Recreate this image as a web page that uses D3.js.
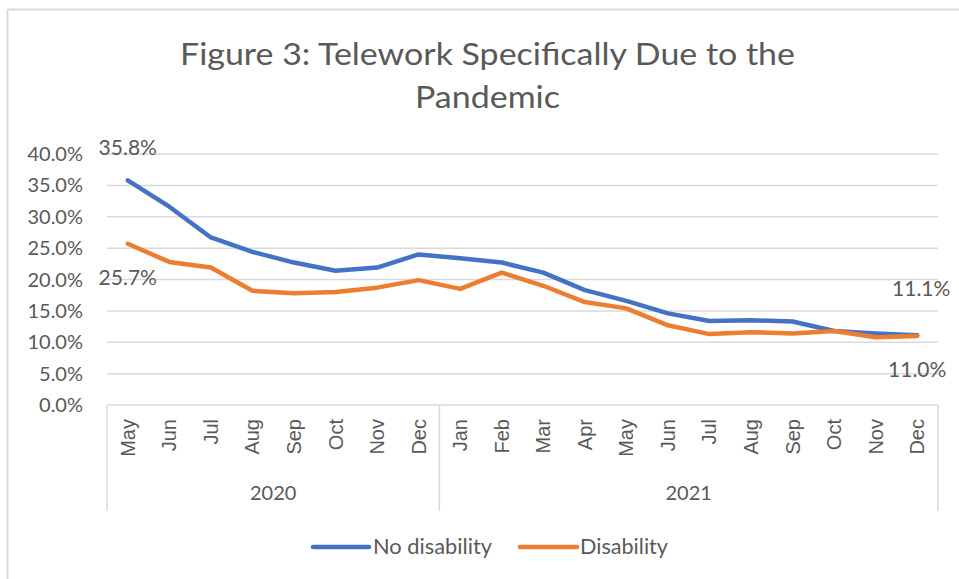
<!DOCTYPE html>
<html><head><meta charset="utf-8">
<script src="https://cdn.jsdelivr.net/npm/d3@7"></script>
<style>html,body{margin:0;padding:0;background:#fff;}svg{display:block;}</style>
</head><body>
<svg id="chart" width="959" height="579"></svg>
<script>
const title = ["Figure 3: Telework Specifically Due to the", "Pandemic"];
const months = ["May","Jun","Jul","Aug","Sep","Oct","Nov","Dec","Jan","Feb","Mar","Apr","May","Jun","Jul","Aug","Sep","Oct","Nov","Dec"];
const years = [{label:"2020", count:8}, {label:"2021", count:12}];
const noDisability = [35.8,31.6,26.7,24.4,22.7,21.4,21.9,24.0,23.4,22.7,21.1,18.3,16.6,14.6,13.4,13.5,13.3,11.8,11.4,11.1];
const disability   = [25.7,22.8,21.9,18.2,17.8,18.0,18.7,19.9,18.5,21.1,19.0,16.4,15.4,12.7,11.3,11.6,11.4,11.8,10.8,11.0];
const yTicks = [0,5,10,15,20,25,30,35,40];
const seriesNames = ["No disability","Disability"];
const colors = ["#4472C4","#ED7D31"];

const svg = d3.select("#chart");
const grey = "#595959", gridC = "#d9d9d9";
const sans = "Lato, 'Liberation Sans', sans-serif";

// border (top & left visible)
svg.append("line").attr("x1",7.5).attr("x2",959).attr("y1",9.5).attr("y2",9.5).attr("stroke",gridC).attr("stroke-width",2);
svg.append("line").attr("x1",7.5).attr("x2",7.5).attr("y1",9.5).attr("y2",579).attr("stroke",gridC).attr("stroke-width",2);

// title
const tl = svg.append("g").attr("font-family","Lato, 'Liberation Sans', sans-serif").attr("font-weight",400).attr("fill",grey).attr("font-size",31);
tl.append("text").attr("x",487.5).attr("y",65).attr("text-anchor","middle").attr("textLength",615).attr("lengthAdjust","spacingAndGlyphs").text(title[0]);
tl.append("text").attr("x",487.5).attr("y",108).attr("text-anchor","middle").attr("textLength",145).attr("lengthAdjust","spacingAndGlyphs").text(title[1]);

const x = d3.scaleBand().domain(d3.range(months.length)).range([107,938]).padding(0);
const y = d3.scaleLinear().domain([0,40]).range([405,154]);
const cx = i => x(i) + x.bandwidth()/2;

// gridlines
svg.append("g").selectAll("line").data(yTicks).join("line")
  .attr("x1",107).attr("x2",938).attr("y1",d=>y(d)).attr("y2",d=>y(d))
  .attr("stroke",gridC).attr("stroke-width",1.5);

// y tick labels
svg.append("g").selectAll("text").data(yTicks).join("text")
  .attr("x",83).attr("y",d=>y(d)+7).attr("text-anchor","end")
  .attr("font-family",sans).attr("font-size",20).attr("fill",grey)
  .text(d=>d.toFixed(1)+"%");

// category axis vertical separators
let cum = 0;
const bounds = [0];
years.forEach(yy=>{cum+=yy.count; bounds.push(cum);});
svg.append("g").selectAll("line").data(bounds).join("line")
  .attr("x1",d=> d<months.length ? x(d) : x(months.length-1)+x.bandwidth())
  .attr("x2",d=> d<months.length ? x(d) : x(months.length-1)+x.bandwidth())
  .attr("y1",405).attr("y2",511).attr("stroke",gridC).attr("stroke-width",1.5);

// month labels
svg.append("g").selectAll("text").data(months).join("text")
  .attr("transform",(d,i)=>`translate(${cx(i)+7},419) rotate(-90)`)
  .attr("text-anchor","end")
  .attr("font-family","'Liberation Sans', Arial, sans-serif").attr("font-size",20).attr("fill",grey)
  .text(d=>d);

// year labels
svg.append("g").selectAll("text").data(years).join("text")
  .attr("x",(d,i)=> (x(bounds[i]) + (bounds[i+1]<months.length ? x(bounds[i+1]) : 938))/2)
  .attr("y",500).attr("text-anchor","middle")
  .attr("font-family",sans).attr("font-size",20).attr("fill",grey)
  .text(d=>d.label);

// lines
const line = d3.line().x((d,i)=>cx(i)).y(d=>y(d));
[noDisability, disability].forEach((s,k)=>{
  svg.append("path").datum(s).attr("d",line).attr("fill","none")
    .attr("stroke",colors[k]).attr("stroke-width",4.5)
    .attr("stroke-linejoin","round").attr("stroke-linecap","round");
});

// data labels
const last = months.length-1;
const dl = [
  {v:noDisability[0], x:cx(0), dy:-25},
  {v:disability[0], x:cx(0), dy:41},
  {v:noDisability[last], x:cx(last)+4, dy:-39},
  {v:disability[last], x:cx(last), dy:41}
];
svg.append("g").selectAll("text").data(dl).join("text")
  .attr("x",d=>d.x).attr("y",d=>y(d.v)+d.dy).attr("text-anchor","middle")
  .attr("font-family",sans).attr("font-size",21).attr("fill",grey)
  .text(d=>d.v.toFixed(1)+"%");

// legend
const lg = [{x1:313,x2:369,tx:373},{x1:520,x2:577,tx:580}];
lg.forEach((p,k)=>{
  svg.append("line").attr("x1",p.x1).attr("x2",p.x2).attr("y1",547).attr("y2",547)
    .attr("stroke",colors[k]).attr("stroke-width",4.5).attr("stroke-linecap","round");
  svg.append("text").attr("x",p.tx).attr("y",554).attr("font-family",sans).attr("font-size",21)
    .attr("fill",grey).attr("textLength", k===0 ? 119 : 88).attr("lengthAdjust","spacingAndGlyphs").text(seriesNames[k]);
});
</script>
</body></html>
